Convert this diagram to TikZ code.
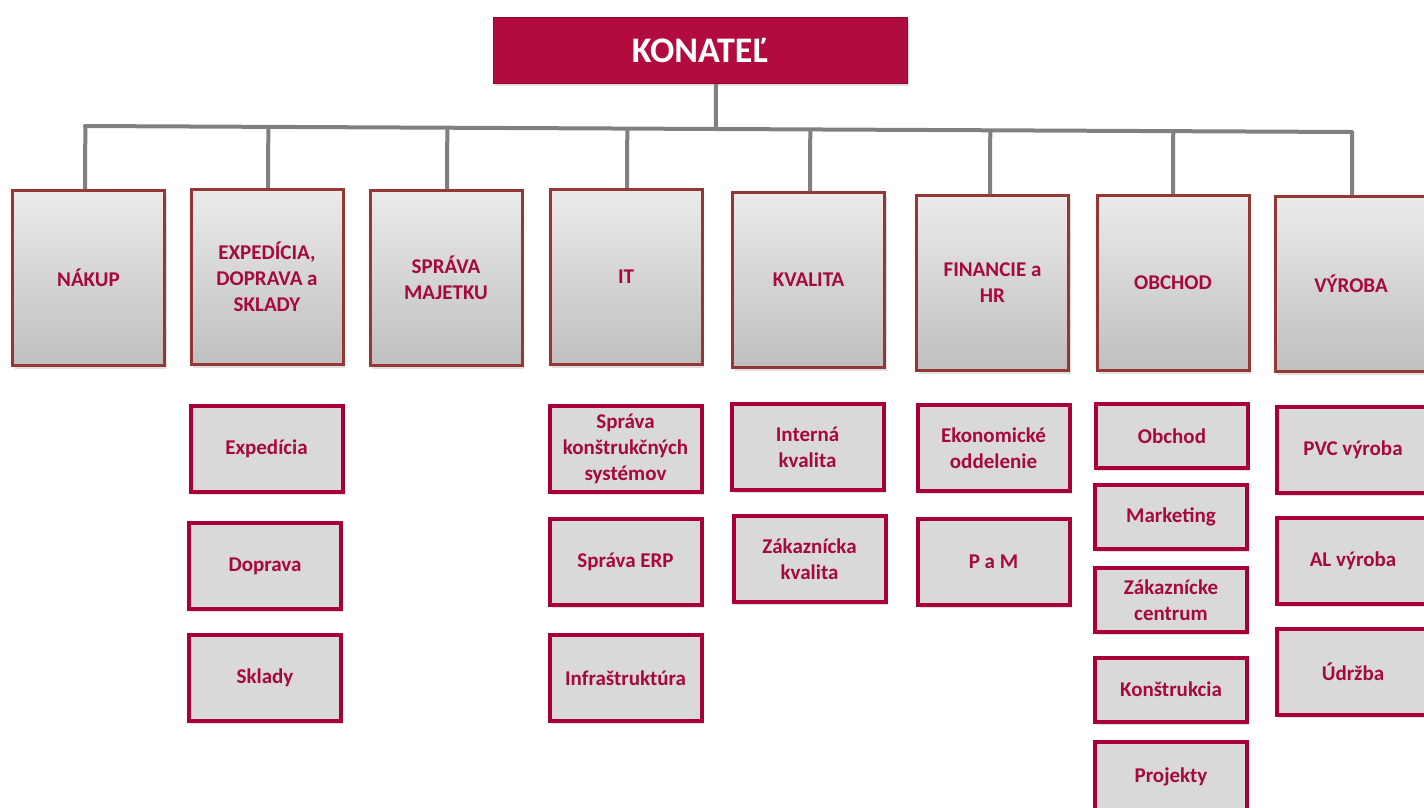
\documentclass[tikz,border=0pt]{standalone}
\usepackage{fontspec}
\setmainfont{Carlito}
\usetikzlibrary{calc,shadows}
\definecolor{crim}{HTML}{A6093D}
\definecolor{konfill}{HTML}{B20B3D}
\definecolor{deptborder}{HTML}{953735}
\definecolor{subborder}{HTML}{A80036}
\definecolor{subfill}{HTML}{D9D9D9}
\definecolor{conncol}{HTML}{808080}
\begin{document}
\begin{tikzpicture}[x=1pt,y=-1pt,
  konbox/.style={draw=konfill!80!black, line width=1pt, fill=konfill, text=white,
    font=\bfseries\fontsize{36}{40}\selectfont, inner sep=0pt,
    minimum width=414, minimum height=66,
    drop shadow={shadow xshift=2pt, shadow yshift=-3pt, opacity=0.25}},
  dept/.style={draw=deptborder, line width=3pt, top color=gray!16, bottom color=gray!50,
    text=crim, font=\bfseries\fontsize{21}{26}\selectfont, align=center, inner sep=0pt,
    minimum width=152, minimum height=175,
    drop shadow={shadow xshift=2pt, shadow yshift=-3pt, opacity=0.25}},
  sub/.style={draw=subborder, line width=4pt, fill=subfill,
    text=crim, font=\bfseries\fontsize{21}{26}\selectfont, align=center, inner sep=0pt,
    minimum width=152, minimum height=86,
    drop shadow={shadow xshift=2pt, shadow yshift=-3pt, opacity=0.25}},
  subs/.style={sub, minimum height=64},
  conn/.style={draw=conncol, line width=4pt}
]
\useasboundingbox (0,0) rectangle (1424,807);
\clip (0,0) rectangle (1424,807);

% top
\node[konbox] (kon) at (700,50) {KONATEĽ};
\coordinate (busL) at (85,126);
\coordinate (busR) at (1352,132);
\coordinate (konb) at (716,84);

% departments
\node[dept] (nakup) at (88.5,278) {NÁKUP};
\node[dept] (exp)   at (267,277) {EXPEDÍCIA,\\DOPRAVA a\\SKLADY};
\node[dept] (sprava) at (446,278) {SPRÁVA\\MAJETKU};
\node[dept] (it)    at (626,277) {IT};
\node[dept] (kval)  at (808.5,280) {KVALITA};
\node[dept] (fin)   at (992.5,283) {FINANCIE a\\HR};
\node[dept] (obch)  at (1173,283) {OBCHOD};
\node[dept] (vyr)   at (1351,284) {VÝROBA};

% connectors
\draw[conn] (konb) -- ($(busL)!(konb)!(busR)$);
\draw[conn, line cap=round] (busL) -- (busR);
\foreach \d/\xx in {nakup/85,exp/268,sprava/447,it/627,kval/810,fin/990,obch/1173,vyr/1352}{
  \coordinate (t\d) at (\xx,200);
  \draw[conn] ($(busL)!(t\d)!(busR)$) -- (\d.north -| t\d);
}

% sub boxes
\node[sub] (s1) at (266.5,449) {Expedícia};
\node[sub] (s2) at (265,566) {Doprava};
\node[sub] (s3) at (265,678) {Sklady};

\node[sub] (s4) at (625.5,449) {Správa\\konštrukčných\\systémov};
\node[sub] (s5) at (625.5,562) {Správa ERP};
\node[sub] (s6) at (625.5,678) {Infraštruktúra};

\node[sub] (s7) at (807.5,447) {Interná\\kvalita};
\node[sub] (s8) at (809.5,559) {Zákaznícka\\kvalita};

\node[sub] (s9) at (993.5,448) {Ekonomické\\oddelenie};
\node[sub] (s10) at (993.5,562) {P a M};

\node[subs] (s11) at (1172,436) {Obchod};
\node[subs] (s12) at (1171,517) {Marketing};
\node[subs] (s13) at (1171,600) {Zákaznícke\\centrum};
\node[subs] (s14) at (1171,689.5) {Konštrukcia};
\node[sub, minimum height=70] (s15) at (1171,777) {Projekty};

\node[sub] (s16) at (1353,449.5) {PVC výroba};
\node[sub] (s17) at (1353,561) {AL výroba};
\node[sub] (s18) at (1353,671.5) {Údržba};
\end{tikzpicture}
\end{document}
